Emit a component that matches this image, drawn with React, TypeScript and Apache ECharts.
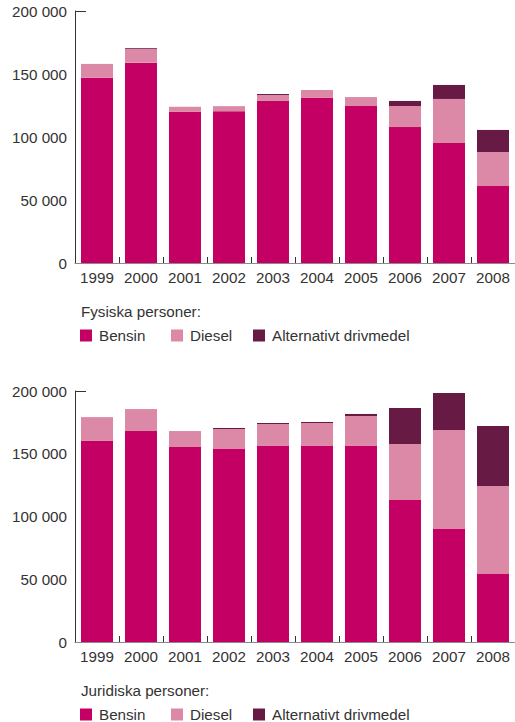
import React, { useEffect, useRef } from "react";
import * as echarts from "echarts";

const years = ["1999", "2000", "2001", "2002", "2003", "2004", "2005", "2006", "2007", "2008"];

const fysBensin = [147000, 159000, 120000, 120500, 128600, 131000, 124600, 107900, 95200, 61100];
const fysDiesel = [11000, 11000, 4000, 4000, 4700, 6300, 7100, 16700, 35000, 27000];
const fysAlt = [0, 600, 0, 0, 800, 0, 0, 4000, 11100, 17500];

const jurBensin = [160200, 168100, 155400, 153800, 156200, 156200, 156200, 113100, 90000, 54200];
const jurDiesel = [19000, 17500, 12700, 15900, 17500, 18300, 23900, 44700, 78900, 70100];
const jurAlt = [0, 0, 0, 800, 800, 800, 1600, 28700, 29500, 47800];

const yTicks = [0, 50000, 100000, 150000, 200000];
const seriesNames = ["Bensin", "Diesel", "Alternativt drivmedel"];
const titles = ["Fysiska personer:", "Juridiska personer:"];

const colors = ["#C40064", "#DC89A8", "#661A44"];
const textColor = "#333333";
const fontFamily = "Liberation Sans, Arial, sans-serif";
const fontSize = 15.2;

function fmt(v: number): string {
  if (v === 0) return "0";
  const s = String(v);
  return s.replace(/\B(?=(\d{3})+(?!\d))/g, " ");
}

export default function App() {
  const ref = useRef<HTMLDivElement>(null);
  useEffect(() => {
    if (!ref.current) return;
    const chart = echarts.init(ref.current, undefined, { renderer: "svg" });
    const grids = [
      { left: 75, top: 11, width: 442, height: 252 },
      { left: 75, top: 391, width: 442, height: 251 },
    ];
    const xAxis = grids.map((_, i) => ({
      type: "category",
      gridIndex: i,
      data: years,
      axisLine: { show: true, lineStyle: { color: "#8a8a8a", width: 1 } },
      axisTick: { show: true, inside: true, length: 6, alignWithLabel: false, lineStyle: { color: "#333", width: 1 } },
      axisLabel: { color: textColor, fontSize, fontFamily, margin: 7, interval: 0, hideOverlap: false },
    }));
    const yAxis = grids.map((_, i) => ({
      type: "value",
      gridIndex: i,
      min: 0,
      max: yTicks[yTicks.length - 1],
      interval: yTicks[1] - yTicks[0],
      axisLine: { show: true, lineStyle: { color: "#333", width: 1 } },
      axisTick: { show: false },
      splitLine: { show: false },
      axisLabel: { color: textColor, fontSize, fontFamily, margin: 8, formatter: (v: number) => fmt(v) },
    }));
    const data = [
      [fysBensin, fysDiesel, fysAlt],
      [jurBensin, jurDiesel, jurAlt],
    ];
    const series: any[] = [];
    data.forEach((group, gi) => {
      group.forEach((vals, si) => {
        series.push({
          type: "bar",
          name: seriesNames[si],
          xAxisIndex: gi,
          yAxisIndex: gi,
          stack: "s" + gi,
          barWidth: 32,
          data: vals,
          itemStyle: { color: colors[si] },
        });
      });
    });
    const legendLefts = [80, 171, 253];
    const legendTops = [328, 707];
    const legend: any[] = [];
    legendTops.forEach((t) => {
      seriesNames.forEach((n, i) => {
        legend.push({
          left: legendLefts[i],
          top: t,
          data: [n],
          itemWidth: 12,
          itemHeight: 12,
          itemGap: 0,
          padding: 0,
          icon: "rect",
          textStyle: { color: textColor, fontSize, fontFamily, padding: [0, 0, 0, 2] },
          selectedMode: false,
        });
      });
    });
    const titleTops = [313, 692];
    const graphic: any[] = [];
    titleTops.forEach((t, i) => {
      graphic.push({
        type: "text",
        left: 81,
        top: t - 9,
        style: { text: titles[i], fill: textColor, font: `${fontSize}px ${fontFamily}` },
      });
    });
    grids.forEach((g) => {
      graphic.push({
        type: "line",
        shape: { x1: g.left, y1: g.top + 0.5, x2: g.left + 11, y2: g.top + 0.5 },
        style: { stroke: "#333", lineWidth: 1 },
      });
    });
    chart.setOption({
      animation: false,
      backgroundColor: "#ffffff",
      grid: grids,
      xAxis,
      yAxis,
      series,
      legend,
      graphic,
    });
    return () => chart.dispose();
  }, []);
  return <div ref={ref} style={{ position: "fixed", left: 0, top: 0, width: 515, height: 722 }} />;
}
